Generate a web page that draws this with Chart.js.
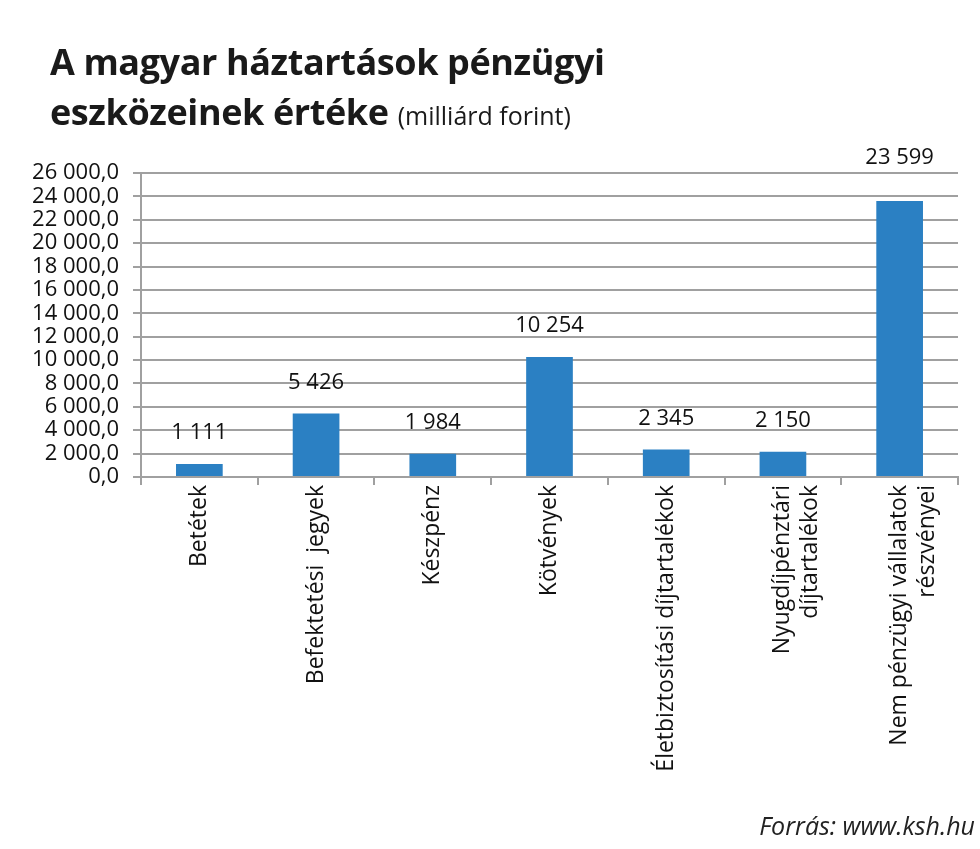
<!DOCTYPE html>
<html lang="hu">
<head>
<meta charset="utf-8">
<script src="https://cdn.jsdelivr.net/npm/chart.js@4"></script>
<style>
  html, body { margin: 0; padding: 0; background: #fff; }
  #wrap { position: relative; width: 980px; height: 849px; }
  #chart { position: absolute; left: 0; top: 0; }
  .title { position: absolute; left: 50px; font-family: "Open Sans", sans-serif; font-weight: bold; font-size: 36px; color: #1a1a1a; white-space: nowrap; letter-spacing: -0.4px; line-height: 48px; }
  .title small { font-weight: normal; font-size: 25px; letter-spacing: 0; }
  #source { position: absolute; right: 5px; top: 808px; font-family: "Open Sans", sans-serif; font-style: italic; font-size: 25px; color: #222; }
</style>
</head>
<body>
<div id="wrap">
  <canvas id="chart" width="980" height="849"></canvas>
  <div class="title" style="top:38px">A magyar háztartások pénzügyi</div>
  <div class="title" style="top:88px">eszközeinek értéke <small>(milliárd forint)</small></div>
  <div id="source">Forrás: www.ksh.hu</div>
</div>
<script>
// adatok
const categories = [
  "Betétek",
  "Befektetési  jegyek",
  "Készpénz",
  "Kötvények",
  "Életbiztosítási díjtartalékok",
  ["Nyugdíjpénztári", "díjtartalékok"],
  ["Nem pénzügyi vállalatok", "részvényei"]
];
const values = [1111, 5426, 1984, 10254, 2345, 2150, 23599];
const yMax = 26000;
const yStep = 2000;

// ezres tagolás szóközzel
function thousands(n) {
  return String(n).replace(/\B(?=(\d{3})+(?!\d))/g, " ");
}

// címkék a rudak fölött
const valueLabels = {
  id: "valueLabels",
  afterDatasetsDraw(chart) {
    const ctx = chart.ctx;
    const meta = chart.getDatasetMeta(0);
    const top = chart.chartArea.top;
    ctx.save();
    ctx.font = "22px 'Open Sans', sans-serif";
    ctx.fillStyle = "#111";
    ctx.textAlign = "center";
    ctx.textBaseline = "middle";
    meta.data.forEach((bar, i) => {
      // ha a felső rácsvonalba lógna, a rajzterület fölé kerül
      let y = bar.y - 31;
      if (y < top + 8) y = top - 15;
      ctx.fillText(thousands(values[i]), bar.x, y);
    });
    ctx.restore();
  }
};

const ctx = document.getElementById("chart");

new Chart(ctx, {
  type: "bar",
  data: {
    labels: categories,
    datasets: [{
      data: values,
      backgroundColor: "#2b80c3",
      categoryPercentage: 1,
      barPercentage: 0.4
    }]
  },
  options: {
    responsive: false,
    animation: false,
    layout: {
      padding: { top: 173, right: 22, left: 0, bottom: 0 }
    },
    plugins: {
      legend: { display: false },
      tooltip: { enabled: false }
    },
    scales: {
      x: {
        afterFit(scale) { scale.height = 372; },
        grid: {
          offset: true,
          drawOnChartArea: false,
          color: "#a0a0a0",
          lineWidth: 2,
          tickLength: 8
        },
        border: { color: "#a0a0a0", width: 2 },
        ticks: {
          minRotation: 90,
          maxRotation: 90,
          autoSkip: false,
          padding: 0,
          color: "#111",
          font: { family: "'Open Sans', sans-serif", size: 23 }
        }
      },
      y: {
        min: 0,
        max: yMax,
        afterFit(scale) { scale.width = 141; },
        grid: {
          color: "#a0a0a0",
          lineWidth: 2,
          tickLength: 8
        },
        border: { color: "#a0a0a0", width: 2 },
        ticks: {
          stepSize: yStep,
          autoSkip: false,
          padding: 14,
          color: "#111",
          font: { family: "'Open Sans', sans-serif", size: 22 },
          callback: (v) => thousands(v) + ",0"
        }
      }
    }
  },
  plugins: [valueLabels]
});
</script>
</body>
</html>
